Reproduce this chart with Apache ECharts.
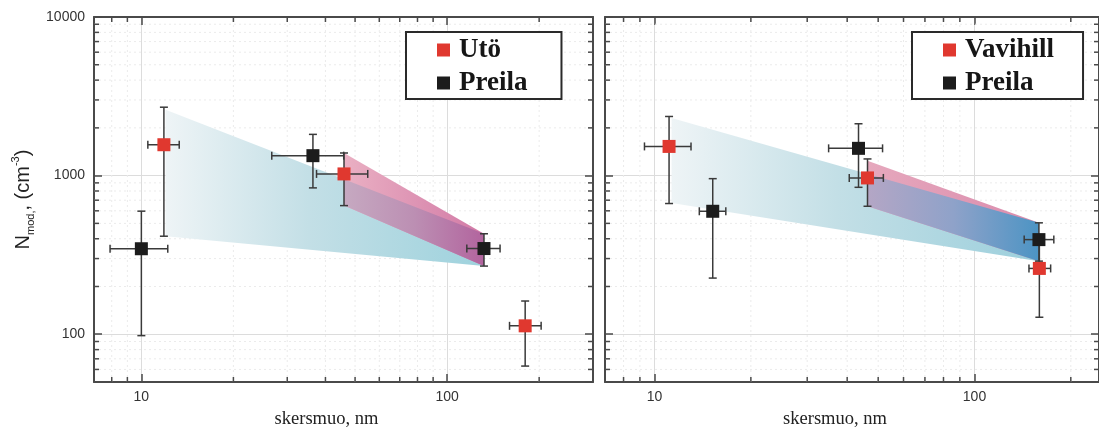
<!DOCTYPE html>
<html>
<head>
<meta charset="utf-8">
<script src="https://cdn.jsdelivr.net/npm/echarts@6/dist/echarts.min.js"></script>
<style>
html,body{margin:0;padding:0;background:#fff;}
#chart{width:1099px;height:434px;}
</style>
</head>
<body>
<div id="chart"></div>
<script>
// ---------- data ----------
// left panel: Utö (red) and Preila (black)
var utoPoints   = [[11.85, 1566], [46, 1025], [180, 113]];
var utoXErr     = [[10.5, 13.3], [37.4, 55], [160, 203]];
var utoYErr     = [[415, 2700], [647, 1389], [63, 162]];
var preilaLPoints = [[10, 346], [36.4, 1336], [132, 347]];
var preilaLXErr   = [[7.9, 12.2], [26.7, 45.9], [116, 149]];
var preilaLYErr   = [[98, 597], [837, 1820], [269, 430]];
// right panel: Vavihill (red) and Preila (black)
var vavPoints   = [[11.1, 1528], [46.3, 967], [159.5, 260]];
var vavXErr     = [[9.3, 13.0], [40.6, 51.9], [148, 173]];
var vavYErr     = [[667, 2360], [641, 1274], [128, 390]];
var preilaRPoints = [[15.2, 596], [43.4, 1486], [159, 395]];
var preilaRXErr   = [[13.8, 16.7], [35, 51.6], [143, 177]];
var preilaRYErr   = [[226, 957], [844, 2123], [289, 504]];
// shaded bands: [x, low, high] at each end
var utoBlueBand = [[12, 415, 2600], [132, 269, 430]];
var utoPinkBand = [[46, 647, 1389], [132, 269, 430]];
var vavBlueBand = [[11.3, 673, 2306], [159, 289, 504]];
var vavPinkBand = [[46.3, 641, 1242], [159, 289, 504]];
// axes
var xRangeL = [7, 300];
var xRangeR = [7, 245];
var yRange  = [50, 10000];
var xMinorTicks = [7, 8, 9, 20, 30, 40, 50, 60, 70, 80, 90, 200, 300];
var yMinorTicks = [60, 70, 80, 90, 200, 300, 400, 500, 600, 700, 800, 900,
                   2000, 3000, 4000, 5000, 6000, 7000, 8000, 9000];
var legendLeft  = ['Utö', 'Preila'];
var legendRight = ['Vavihill', 'Preila'];
var xName = 'skersmuo, nm';

// ---------- helpers ----------
var RED = '#e0382f', BLACK = '#1c1c1c', AX = '#4a4a4a';

function errData(points, xe, ye) {
  return points.map(function (p, i) { return [p[0], p[1], xe[i][0], xe[i][1], ye[i][0], ye[i][1]]; });
}
function errSeries(gi, points, xe, ye) {
  return {
    type: 'custom', xAxisIndex: gi * 2, yAxisIndex: gi * 2, z: 3, clip: false, silent: true,
    encode: { x: 0, y: 1 },
    data: errData(points, xe, ye),
    renderItem: function (params, api) {
      var x = api.value(0), y = api.value(1);
      var l = api.coord([api.value(2), y]), r = api.coord([api.value(3), y]);
      var b = api.coord([x, api.value(4)]), t = api.coord([x, api.value(5)]);
      var st = { stroke: '#3a3a3a', lineWidth: 1.5 };
      var c = 4;
      function ln(x1, y1, x2, y2) { return { type: 'line', shape: { x1: x1, y1: y1, x2: x2, y2: y2 }, style: st }; }
      return { type: 'group', children: [
        ln(l[0], l[1], r[0], r[1]), ln(t[0], t[1], b[0], b[1]),
        ln(l[0], l[1] - c, l[0], l[1] + c), ln(r[0], r[1] - c, r[0], r[1] + c),
        ln(t[0] - c, t[1], t[0] + c, t[1]), ln(b[0] - c, b[1], b[0] + c, b[1])
      ] };
    }
  };
}
function clipPoly(subject, clip) {
  var area = 0;
  for (var i = 0; i < clip.length; i++) {
    var a = clip[i], b = clip[(i + 1) % clip.length];
    area += a[0] * b[1] - b[0] * a[1];
  }
  var sgn = area > 0 ? 1 : -1;
  var out = subject;
  for (var i = 0; i < clip.length; i++) {
    var A = clip[i], B = clip[(i + 1) % clip.length];
    var inp = out; out = [];
    if (!inp.length) break;
    var ins = function (P) { return sgn * ((B[0] - A[0]) * (P[1] - A[1]) - (B[1] - A[1]) * (P[0] - A[0])) >= 0; };
    var inter = function (P, Q) {
      var x1 = P[0], y1 = P[1], x2 = Q[0], y2 = Q[1], x3 = A[0], y3 = A[1], x4 = B[0], y4 = B[1];
      var d = (x1 - x2) * (y3 - y4) - (y1 - y2) * (x3 - x4);
      var t = ((x1 - x3) * (y3 - y4) - (y1 - y3) * (x3 - x4)) / d;
      return [x1 + t * (x2 - x1), y1 + t * (y2 - y1)];
    };
    for (var j = 0; j < inp.length; j++) {
      var P = inp[j], Q = inp[(j + 1) % inp.length];
      var pi = ins(P), qi = ins(Q);
      if (pi) { out.push(P); if (!qi) out.push(inter(P, Q)); }
      else if (qi) { out.push(inter(P, Q)); }
    }
  }
  return out;
}
function grad(stops) {
  return new echarts.graphic.LinearGradient(0, 0, 1, 0, stops.map(function (s) { return { offset: s[0], color: s[1] }; }));
}
function bandSeries(gi, blue, pink, cols) {
  var row = [blue[0][0], blue[0][1], blue[0][2], blue[1][0], blue[1][1], blue[1][2],
             pink[0][0], pink[0][1], pink[0][2], pink[1][0], pink[1][1], pink[1][2]];
  return {
    type: 'custom', xAxisIndex: gi * 2, yAxisIndex: gi * 2, z: 2, clip: false, silent: true,
    encode: { x: 0, y: 1 },
    data: [row],
    renderItem: function (params, api) {
      var v = []; for (var i = 0; i < 12; i++) v.push(api.value(i));
      function quad(o) {
        return [api.coord([v[o], v[o + 2]]), api.coord([v[o + 3], v[o + 5]]),
                api.coord([v[o + 3], v[o + 4]]), api.coord([v[o], v[o + 1]])];
      }
      var qb = quad(0), qp = quad(6);
      var ov = clipPoly(qp, qb);
      var ch = [
        { type: 'polygon', shape: { points: qb }, style: { fill: grad(cols.blue) } },
        { type: 'polygon', shape: { points: qp }, style: { fill: grad(cols.pink) } }
      ];
      if (ov.length > 2) ch.push({ type: 'polygon', shape: { points: ov }, style: { fill: grad(cols.over) } });
      return { type: 'group', children: ch };
    }
  };
}
function minorSeries(gi, xr) {
  var data = [];
  xMinorTicks.forEach(function (v) { if (v > xr[0] && v < xr[1]) data.push([v, 100, 0]); });
  yMinorTicks.forEach(function (v) { if (v > yRange[0] && v < yRange[1]) data.push([20, v, 1]); });
  return {
    type: 'custom', xAxisIndex: gi * 2, yAxisIndex: gi * 2, z: 1, clip: false, silent: true,
    encode: { x: 0, y: 1 },
    data: data,
    renderItem: function (params, api) {
      var kind = api.value(2), p0, p1, ch = [];
      var tk = { stroke: AX, lineWidth: 1.5 };
      var gl = { stroke: '#ebebeb', lineWidth: 1, lineDash: [2, 3] };
      if (kind === 0) {
        var x = api.value(0);
        p0 = api.coord([x, yRange[0]]); p1 = api.coord([x, yRange[1]]);
        ch.push({ type: 'line', shape: { x1: p0[0], y1: p0[1], x2: p1[0], y2: p1[1] }, style: gl });
        ch.push({ type: 'line', shape: { x1: p0[0], y1: p0[1], x2: p0[0], y2: p0[1] - 5 }, style: tk });
        ch.push({ type: 'line', shape: { x1: p1[0], y1: p1[1], x2: p1[0], y2: p1[1] + 5 }, style: tk });
      } else {
        var y = api.value(1);
        p0 = api.coord([xr[0], y]); p1 = api.coord([xr[1], y]);
        ch.push({ type: 'line', shape: { x1: p0[0], y1: p0[1], x2: p1[0], y2: p1[1] }, style: gl });
        ch.push({ type: 'line', shape: { x1: p0[0], y1: p0[1], x2: p0[0] + 5, y2: p0[1] }, style: tk });
        ch.push({ type: 'line', shape: { x1: p1[0], y1: p1[1], x2: p1[0] - 5, y2: p1[1] }, style: tk });
      }
      return { type: 'group', children: ch };
    }
  };
}
function fmt(v) { return String(Math.round(v)); }
function xAxes(gi, xr) {
  var base = {
    gridIndex: gi, type: 'log', logBase: 10, min: xr[0], max: xr[1],
    axisLine: { show: true, lineStyle: { color: AX, width: 2 } },
    axisTick: { show: true, inside: true, length: 8, lineStyle: { color: AX, width: 1.5 } }
  };
  var bottom = Object.assign({}, base, {
    position: 'bottom',
    axisLabel: { show: true, fontSize: 14, color: '#333', fontFamily: 'Liberation Sans, Arial', margin: 8,
                 showMinLabel: false, showMaxLabel: false, formatter: fmt },
    splitLine: { show: true, lineStyle: { color: '#dcdcdc', width: 1 } },
    name: xName, nameLocation: 'middle', nameGap: 28,
    nameTextStyle: { fontFamily: 'Liberation Serif, Times New Roman', fontSize: 18.5, color: '#222', padding: [0, 34, 0, 0] }
  });
  var top = Object.assign({}, base, { position: 'top', axisLabel: { show: false }, splitLine: { show: false } });
  return [bottom, top];
}
function yAxes(gi, withLabel) {
  var base = {
    gridIndex: gi, type: 'log', logBase: 10, min: yRange[0], max: yRange[1],
    axisLine: { show: true, lineStyle: { color: AX, width: 2 } },
    axisTick: { show: true, inside: true, length: 8, lineStyle: { color: AX, width: 1.5 } }
  };
  var left = Object.assign({}, base, {
    position: 'left',
    axisLabel: { show: withLabel, fontSize: 14, color: '#333', fontFamily: 'Liberation Sans, Arial', margin: 9,
                 showMinLabel: false, formatter: fmt },
    splitLine: { show: true, lineStyle: { color: '#dcdcdc', width: 1 } }
  });
  if (withLabel) {
    left.name = '{n|N}{s|mod,}{n|, (cm}{p|-3}{n|)}';
    left.nameLocation = 'middle';
    left.nameGap = 58;
    left.nameTextStyle = {
      rich: {
        n: { fontSize: 20, lineHeight: 26, fontFamily: 'Liberation Sans, Arial', color: '#222' },
        s: { fontSize: 11, lineHeight: 13, verticalAlign: 'bottom', fontFamily: 'Liberation Sans, Arial', color: '#222' },
        p: { fontSize: 11, lineHeight: 13, verticalAlign: 'top', fontFamily: 'Liberation Sans, Arial', color: '#222' }
      }
    };
  }
  var right = Object.assign({}, base, { position: 'right', axisLabel: { show: false }, splitLine: { show: false } });
  return [left, right];
}
function scatter(gi, name, pts, color) {
  return {
    type: 'scatter', name: name, xAxisIndex: gi * 2, yAxisIndex: gi * 2, z: 4,
    symbol: 'rect', symbolSize: 13, data: pts,
    itemStyle: { color: color, opacity: 1 }
  };
}
function legend(left, data, rightPad) {
  return {
    left: left, top: 32, orient: 'vertical', data: data, selectedMode: false,
    icon: 'rect', itemWidth: 13, itemHeight: 13, itemGap: 3,
    padding: [3, rightPad, 1, 31],
    backgroundColor: '#fff', borderColor: '#2a2a2a', borderWidth: 2,
    textStyle: { fontFamily: 'Liberation Serif, Times New Roman', fontWeight: 'bold', fontSize: 27,
                 color: '#161616', lineHeight: 30, padding: [0, 0, 0, 4] }
  };
}

var leftCols = {
  blue: [[0, '#eef4f6'], [0.45, '#c3dfe6'], [1, '#9ed2dd']],
  pink: [[0, '#eab0c3'], [1, '#d27aa6']],
  over: [[0, '#c6a9c1'], [0.5, '#bc8fb3'], [1, '#b2649e']]
};
var rightCols = {
  blue: [[0, '#eef4f6'], [0.45, '#c3dfe6'], [1, '#9ccfdc']],
  pink: [[0, '#e6a8bd'], [1, '#da8cad']],
  over: [[0, '#b4a6c5'], [0.5, '#8fa2c9'], [1, '#4c94c4']]
};

var chart = echarts.init(document.getElementById('chart'), null, { renderer: 'canvas' });
var xa0 = xAxes(0, xRangeL), xa1 = xAxes(1, xRangeR);
var ya0 = yAxes(0, true), ya1 = yAxes(1, false);
chart.setOption({
  animation: false,
  backgroundColor: '#fff',
  grid: [
    { left: 94, top: 17, width: 499, height: 366 },
    { left: 605, top: 17, width: 497, height: 366 }
  ],
  xAxis: [xa0[0], xa0[1], xa1[0], xa1[1]],
  yAxis: [ya0[0], ya0[1], ya1[0], ya1[1]],
  legend: [legend(406, legendLeft, 34), legend(912, legendRight, 29)],
  series: [
    minorSeries(0, xRangeL),
    minorSeries(1, xRangeR),
    bandSeries(0, utoBlueBand, utoPinkBand, leftCols),
    bandSeries(1, vavBlueBand, vavPinkBand, rightCols),
    errSeries(0, preilaLPoints, preilaLXErr, preilaLYErr),
    errSeries(0, utoPoints, utoXErr, utoYErr),
    errSeries(1, preilaRPoints, preilaRXErr, preilaRYErr),
    errSeries(1, vavPoints, vavXErr, vavYErr),
    scatter(0, 'Utö', utoPoints, RED),
    scatter(0, 'Preila', preilaLPoints, BLACK),
    scatter(1, 'Vavihill', vavPoints, RED),
    scatter(1, 'Preila', preilaRPoints, BLACK)
  ]
});
</script>
</body>
</html>
